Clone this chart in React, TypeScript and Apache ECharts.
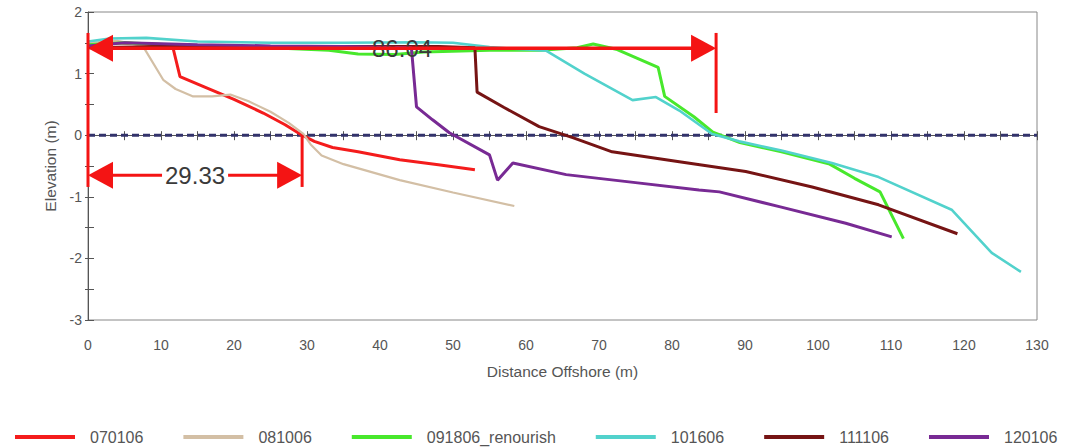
import { useEffect, useRef } from 'react';
import * as echarts from 'echarts';

// Beach profile surveys: [distance offshore (m), elevation (m)]
const seriesNames = ['070106', '081006', '091806_renourish', '101606', '111106', '120106'];
const seriesColors = ['#f41c1c', '#d3bfa5', '#48e82c', '#52d2cc', '#761414', '#782a94'];
const seriesWidths = [3, 2.2, 3, 2.6, 3, 3];

const p070106 = [
  [0, 1.45], [4, 1.5], [8, 1.48], [11.6, 1.44], [12.6, 0.95], [16, 0.78], [20, 0.58],
  [24, 0.36], [27, 0.17], [29.33, 0], [31, -0.1], [33.5, -0.2], [37, -0.27],
  [42.7, -0.4], [48, -0.48], [53, -0.56],
];
const p081006 = [
  [0, 1.5], [4, 1.53], [7.5, 1.45], [10.3, 0.9], [12, 0.75], [14.4, 0.63], [17, 0.63],
  [19.5, 0.66], [22, 0.55], [25, 0.38], [27.5, 0.2], [29.5, 0.02], [30.5, -0.15],
  [32, -0.33], [35, -0.47], [42.7, -0.73], [50, -0.93], [58.4, -1.15],
];
const p091806 = [
  [0, 1.47], [5, 1.5], [15, 1.45], [25, 1.42], [33, 1.38], [37, 1.32], [42, 1.31],
  [46, 1.35], [55, 1.38], [62, 1.38], [67, 1.42], [69.2, 1.48], [72.5, 1.39],
  [78.1, 1.1], [79, 0.63], [83, 0.3], [85.6, 0.05], [89.3, -0.12], [95, -0.27],
  [101.6, -0.47], [105, -0.7], [108.5, -0.92], [111.7, -1.68],
];
const p101606 = [
  [0, 1.52], [3, 1.57], [8, 1.58], [15, 1.52], [25, 1.5], [35, 1.5], [45, 1.51],
  [50, 1.5], [55, 1.43], [60, 1.39], [62.8, 1.37], [68, 1.0], [74.6, 0.57],
  [77.8, 0.62], [81, 0.4], [85.5, 0.02], [89.2, -0.1], [95, -0.25], [101.9, -0.45],
  [108.3, -0.68], [118.3, -1.21], [123.8, -1.91], [127.8, -2.22],
];
const p111106 = [
  [0, 1.42], [10, 1.44], [20, 1.43], [30, 1.44], [40, 1.44], [48, 1.44], [53, 1.42],
  [53.3, 0.7], [57, 0.45], [61.8, 0.14], [66.4, -0.04], [71.8, -0.27], [81, -0.43],
  [90.1, -0.59], [99.2, -0.84], [108.3, -1.13], [119.1, -1.6],
];
const p120106 = [
  [0, 1.45], [5, 1.5], [15, 1.47], [25, 1.45], [35, 1.44], [44.3, 1.42], [45, 0.46],
  [47.2, 0.25], [49.5, 0.04], [55, -0.32], [56.1, -0.73], [58.2, -0.45], [65.5, -0.64],
  [75, -0.77], [83.7, -0.89], [86.5, -0.92], [94.7, -1.16], [103.8, -1.43], [110.1, -1.65],
];
const profiles = [p070106, p081006, p091806, p101606, p111106, p120106];

// Axis ranges
const xMin = 0;
const xMax = 130;
const xStep = 10;
const yMin = -3;
const yMax = 2;
const yStep = 1;

// Mean water level reference
const datumLevel = 0;

// Dimension arrows: start, end, elevation at which the arrow is drawn, boxed label
const dimFrom = [0, 0];
const dimTo = [86.04, 29.33];
const dimLevel = [1.41, -0.65];
const dimBoxed = [false, true];

// Extension lines for the dimensions: x, top, bottom
const extX = [0, 86.04, 29.33];
const extTop = [1.66, 1.66, 0];
const extBottom = [-0.84, 0.36, -0.84];

const RED = '#f41414';
const TEXT = '#555';
const AXIS = '#555';
const FONT = '"Liberation Sans", Arial, sans-serif';

export default function App() {
  const ref = useRef<HTMLDivElement>(null);

  useEffect(() => {
    if (!ref.current) return;
    const chart = echarts.init(ref.current, null, { renderer: 'svg' });

    const gridBox = { left: 88, top: 12, right: 36, bottom: 127 };

    const baseX = {
      type: 'value',
      min: xMin,
      max: xMax,
      interval: xStep,
      splitLine: { show: false },
    };
    const baseY = {
      type: 'value',
      min: yMin,
      max: yMax,
      interval: yStep,
      splitLine: { show: false },
    };

    const lineSeries = profiles.map((pts, i) => ({
      name: seriesNames[i],
      type: 'line',
      data: pts,
      symbol: 'none',
      showSymbol: false,
      color: seriesColors[i],
      lineStyle: { color: seriesColors[i], width: seriesWidths[i] },
      emphasis: { disabled: true },
      z: 3,
    }));

    const option = {
      animation: false,
      backgroundColor: '#fff',
      grid: [
        {
          ...gridBox,
          show: true,
          borderColor: '#888',
          borderWidth: 1,
          backgroundColor: 'transparent',
        },
        // twin grid carrying the inner halves of the crossing tick marks
        { ...gridBox, show: false },
      ],
      legend: {
        data: seriesNames,
        left: 10,
        top: 424,
        icon: 'rect',
        itemWidth: 60,
        itemHeight: 4,
        itemGap: 40,
        selectedMode: false,
        textStyle: { fontSize: 16, color: TEXT, fontFamily: FONT, padding: [0, 0, 0, 10] },
      },
      xAxis: [
        {
          ...baseX,
          gridIndex: 0,
          position: 'bottom',
          name: 'Distance Offshore (m)',
          nameLocation: 'middle',
          nameGap: 43,
          nameTextStyle: { fontSize: 15.5, color: TEXT, fontFamily: FONT },
          axisLine: { show: true, lineStyle: { color: AXIS, width: 1 } },
          axisTick: { show: true, inside: false, length: 5, lineStyle: { color: AXIS } },
          minorTick: { show: true, splitNumber: 2, length: 5, lineStyle: { color: AXIS } },
          axisLabel: { margin: 18, fontSize: 14, color: TEXT, fontFamily: FONT },
        },
        {
          ...baseX,
          gridIndex: 1,
          position: 'bottom',
          axisLine: { show: false },
          axisTick: { show: true, inside: true, length: 4, lineStyle: { color: AXIS } },
          minorTick: { show: true, splitNumber: 2, length: 4, lineStyle: { color: AXIS } },
          axisLabel: { show: false },
        },
      ],
      yAxis: [
        {
          ...baseY,
          gridIndex: 0,
          position: 'left',
          name: 'Elevation (m)',
          nameLocation: 'middle',
          nameGap: 28,
          nameTextStyle: { fontSize: 15.5, color: TEXT, fontFamily: FONT },
          axisLine: { show: true, lineStyle: { color: AXIS, width: 1 } },
          axisTick: { show: true, inside: false, length: 3, lineStyle: { color: AXIS } },
          minorTick: { show: true, splitNumber: 2, length: 3, lineStyle: { color: AXIS } },
          axisLabel: { margin: 6, fontSize: 14, color: TEXT, fontFamily: FONT },
        },
        {
          ...baseY,
          gridIndex: 1,
          position: 'left',
          axisLine: { show: false },
          axisTick: { show: true, inside: true, length: 6, lineStyle: { color: AXIS } },
          minorTick: { show: true, splitNumber: 2, length: 6, lineStyle: { color: AXIS } },
          axisLabel: { show: false },
        },
      ],
      series: [
        {
          name: 'datum',
          type: 'line',
          data: [[xMin, datumLevel], [xMax, datumLevel]],
          symbol: 'none',
          lineStyle: { color: '#33336b', width: 3, type: [7, 4] },
          emphasis: { disabled: true },
          silent: true,
          z: 2,
        },
        ...lineSeries,
        {
          name: 'extensions',
          type: 'custom',
          silent: true,
          z: 5,
          data: extX.map((x, i) => [x, extTop[i], extBottom[i]]),
          encode: { x: 0, y: [1, 2] },
          renderItem: (params: any, api: any) => {
            const a = api.coord([api.value(0), api.value(1)]);
            const b = api.coord([api.value(0), api.value(2)]);
            return {
              type: 'line',
              shape: { x1: a[0], y1: a[1], x2: b[0], y2: b[1] },
              style: { stroke: RED, lineWidth: 3 },
            };
          },
        },
        {
          name: 'dimensions',
          type: 'custom',
          silent: true,
          z: 6,
          data: dimFrom.map((x, i) => [x, dimTo[i], dimLevel[i]]),
          encode: { x: [0, 1], y: 2 },
          renderItem: (params: any, api: any) => {
            const i = params.dataIndex;
            const from = api.value(0);
            const to = api.value(1);
            const p0 = api.coord([from, api.value(2)]);
            const p1 = api.coord([to, api.value(2)]);
            const y = p0[1];
            const L = 25;
            const H = 27;
            const boxed = dimBoxed[i];
            const shaft = {
              type: 'line',
              shape: { x1: p0[0] + 4, y1: y, x2: p1[0] - 4, y2: y },
              style: { stroke: RED, lineWidth: boxed ? 3 : 3.5 },
            };
            const headStart = {
              type: 'polygon',
              shape: { points: [[p0[0], y], [p0[0] + L, y - H / 2], [p0[0] + L, y + H / 2]] },
              style: { fill: RED },
            };
            const headEnd = {
              type: 'polygon',
              shape: { points: [[p1[0], y], [p1[0] - L, y - H / 2], [p1[0] - L, y + H / 2]] },
              style: { fill: RED },
            };
            const label = {
              type: 'text',
              x: (p0[0] + p1[0]) / 2,
              y,
              style: {
                text: (to - from).toFixed(2),
                fill: '#3a3a3a',
                fontSize: 24,
                fontFamily: FONT,
                align: 'center',
                verticalAlign: 'middle',
                backgroundColor: boxed ? '#fff' : 'transparent',
                padding: boxed ? [0, 3] : 0,
              },
            };
            return {
              type: 'group',
              children: boxed ? [shaft, headStart, headEnd, label] : [label, shaft, headStart, headEnd],
            };
          },
        },
      ],
    };

    chart.setOption(option as any);
    return () => chart.dispose();
  }, []);

  return (
    <div
      ref={ref}
      style={{ position: 'absolute', left: 0, top: 0, width: 1073, height: 447 }}
    />
  );
}
